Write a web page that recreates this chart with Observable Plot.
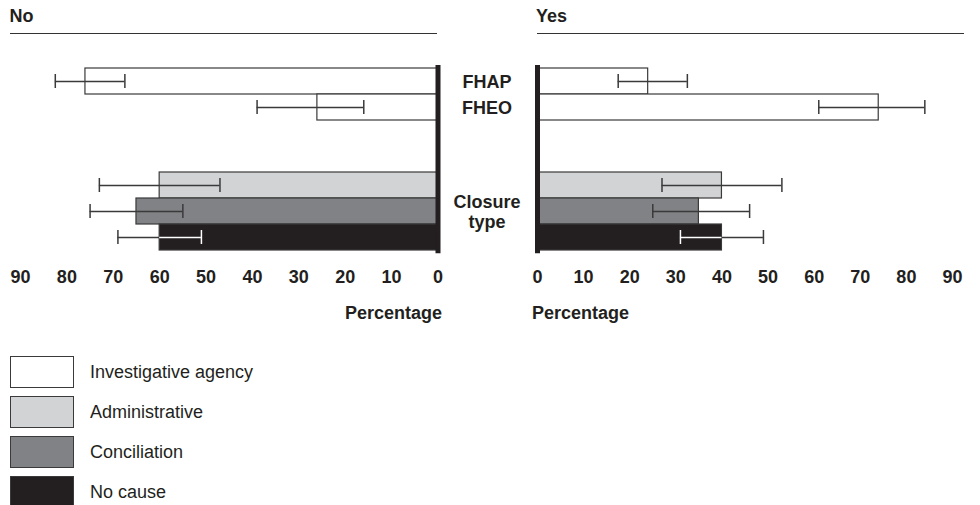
<!DOCTYPE html>
<html>
<head>
<meta charset="utf-8">
<script src="https://cdn.jsdelivr.net/npm/d3@7"></script>
<script src="https://cdn.jsdelivr.net/npm/@observablehq/plot@0.6"></script>
<style>
  html, body { margin: 0; padding: 0; background: #fff; }
  #root { position: relative; width: 980px; height: 505px; overflow: hidden; background: #fff;
          font-family: "Liberation Sans", Arial, Helvetica, sans-serif; color: #231f20; }
  .abs { position: absolute; white-space: nowrap; line-height: 1; }
  .hline { position: absolute; height: 0; border-top: 1.5px solid #333; }
  .box { position: absolute; box-sizing: border-box; border: 1.5px solid #3a3a3a; }
</style>
</head>
<body>
<div id="root"></div>
<script>
// ---- data ----
const categories = ["Investigative agency", "Administrative", "Conciliation", "No cause"];
const categoryFills = ["#ffffff", "#d1d3d4", "#808285", "#231f20"];
const slots = ["FHAP", "FHEO", "gap1", "gap2", "Administrative", "Conciliation", "No cause"];
const rowKeys = ["FHAP", "FHEO", "Administrative", "Conciliation", "No cause"];
const rowCategory = ["Investigative agency", "Investigative agency", "Administrative", "Conciliation", "No cause"];
const noValues = [76, 26, 60, 65, 60];
const noLow    = [67.5, 16, 47, 55, 51];
const noHigh   = [82.5, 39, 73, 75, 69];
const yesValues = [24, 74, 40, 35, 40];
const yesLow    = [17.5, 61, 27, 25, 31];
const yesHigh   = [32.5, 84, 53, 46, 49];
const xTicks = [0, 10, 20, 30, 40, 50, 60, 70, 80, 90];
const panelTitles = ["No", "Yes"];
const axisTitle = "Percentage";
const middleLabels = [
  {row: "FHAP", t: "FHAP"},
  {row: "FHEO", t: "FHEO"},
  {row: "Conciliation", t: "Closure\ntype"}
];

const FONT = '"Liberation Sans", Arial, Helvetica, sans-serif';
const DARK = "#3a3a3a";
const root = document.getElementById("root");

function panel(values, low, high, reverse, width, marginLeft, marginRight, extra) {
  const data = rowKeys.map((k, i) => ({row: k, cat: rowCategory[i], v: values[i], lo: low[i], hi: high[i]}));
  const darkSeg = [], whiteSeg = [], darkCap = [], whiteCap = [];
  for (const d of data) {
    const inside = d.cat === "No cause";
    (inside ? whiteSeg : darkSeg).push({row: d.row, x1: d.lo, x2: Math.min(d.hi, d.v)});
    if (d.hi > d.v) darkSeg.push({row: d.row, x1: d.v, x2: d.hi});
    ((inside && d.lo < d.v) ? whiteCap : darkCap).push({row: d.row, x: d.lo});
    ((inside && d.hi < d.v) ? whiteCap : darkCap).push({row: d.row, x: d.hi});
  }
  return Plot.plot({
    width, height: 330,
    marginLeft, marginRight, marginTop: 66, marginBottom: 330 - 252.7,
    style: {background: "transparent", fontFamily: FONT, fontSize: "18px", color: "#231f20", overflow: "visible"},
    x: {domain: [0, 90], reverse},
    y: {domain: slots, padding: 0, axis: null},
    color: {domain: categories, range: categoryFills},
    marks: [
      Plot.barX(data, {y: "row", x1: 0, x2: "v", fill: "cat", stroke: DARK, strokeWidth: 1.2}),
      Plot.ruleY(darkSeg, {y: "row", x1: "x1", x2: "x2", stroke: DARK, strokeWidth: 1.5}),
      Plot.ruleY(whiteSeg, {y: "row", x1: "x1", x2: "x2", stroke: "#ffffff", strokeWidth: 1.5}),
      Plot.tickX(darkCap, {y: "row", x: "x", stroke: DARK, strokeWidth: 1.5, insetTop: 6, insetBottom: 6}),
      Plot.tickX(whiteCap, {y: "row", x: "x", stroke: "#ffffff", strokeWidth: 1.5, insetTop: 6, insetBottom: 6}),
      Plot.ruleX([0], {stroke: "#231f20", strokeWidth: 5, insetTop: -1, insetBottom: -0.5}),
      Plot.axisX({ticks: xTicks, tickSize: 0, tickPadding: 17.5, label: null, fontWeight: "bold", fontSize: 18, fill: "#231f20"}),
      ...extra
    ]
  });
}

function place(el, left, top) {
  const wrap = document.createElement("div");
  wrap.style.position = "absolute";
  wrap.style.left = left + "px";
  wrap.style.top = top + "px";
  wrap.appendChild(el);
  root.appendChild(wrap);
}

function label(text, x, baseline, fs, bold, align) {
  const d = document.createElement("div");
  d.className = "abs";
  d.textContent = text;
  d.style.fontSize = fs + "px";
  d.style.fontWeight = bold ? "bold" : "normal";
  d.style.top = (baseline - 0.8465 * fs) + "px";
  if (align === "right") { d.style.right = (980 - x) + "px"; } else { d.style.left = x + "px"; }
  root.appendChild(d);
}

function hline(x, y, w) {
  const d = document.createElement("div");
  d.className = "hline";
  d.style.left = x + "px"; d.style.top = (y - 0.75) + "px"; d.style.width = w + "px";
  root.appendChild(d);
}

// panels
const left = panel(noValues, noLow, noHigh, true, 460, 20, 22.5, []);
const right = panel(yesValues, yesLow, yesHigh, false, 540, 97, 28, [
  Plot.text(middleLabels, {y: "row", text: "t", frameAnchor: "left", dx: -50.5, textAnchor: "middle",
    fontWeight: "bold", fontSize: 18, lineHeight: 1.1, fill: "#231f20"})
]);
place(left, 0, 0);
place(right, 440, 0);

// headers
label(panelTitles[0], 9.5, 22.7, 18, true);
label(panelTitles[1], 536, 22.7, 18, true);
hline(10, 33.5, 427);
hline(537, 33.5, 427);

// axis titles
label(axisTitle, 442, 319, 18, true, "right");
label(axisTitle, 532, 319, 18, true);

// legend
categories.forEach((c, i) => {
  const top = 356 + i * 40;
  const b = document.createElement("div");
  b.className = "box";
  b.style.left = "10px"; b.style.top = top + "px";
  b.style.width = "64px"; b.style.height = "32px";
  b.style.background = categoryFills[i];
  root.appendChild(b);
  label(c, 90, top + 16 + 6.4, 18, false);
});
</script>
</body>
</html>
